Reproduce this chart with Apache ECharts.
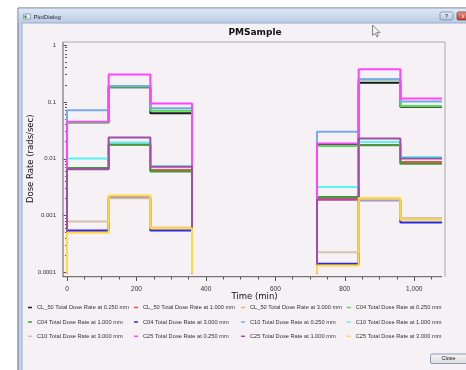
<!DOCTYPE html>
<html><head><meta charset="utf-8">
<script src="https://cdn.jsdelivr.net/npm/echarts@6/dist/echarts.min.js"></script>
<style>html,body{margin:0;padding:0;background:#fff}#c{width:466px;height:370px}</style>
</head><body><div id="c"></div>
<script>
// ---- data ----
const times = [0, 120, 240, 360, 720, 840, 960, 1080];
const seriesNames = [
  'CL_50 Total Dose Rate at 0.250 mm', 'CL_50 Total Dose Rate at 1.000 mm', 'CL_50 Total Dose Rate at 3.000 mm', 'C04 Total Dose Rate at 0.250 mm',
  'C04 Total Dose Rate at 1.000 mm', 'C04 Total Dose Rate at 3.000 mm', 'C10 Total Dose Rate at 0.250 mm', 'C10 Total Dose Rate at 1.000 mm',
  'C10 Total Dose Rate at 3.000 mm', 'C25 Total Dose Rate at 0.250 mm', 'C25 Total Dose Rate at 1.000 mm', 'C25 Total Dose Rate at 3.000 mm'
];
const seriesColors = ['#1a1a1a', '#ff4a4a', '#ffac5c', '#4ee04e', '#3c9c3c', '#2a2ae8',
  '#78a8ee', '#55f5f5', '#d6c2ac', '#ff44ff', '#a04ca8', '#ffda3c'];
// interval values: [0-120, 120-240, 240-360, 720-840, 840-960, 960-1080]
const CL50_025 = [0.044, 0.180, 0.0633, 0.0178, 0.217, 0.0818];
const CL50_100 = [0.0067, 0.0178, 0.00635, 0.0020, 0.0175, 0.0088];
const CL50_300 = [0.00052, 0.0021, 0.00059, 0.000135, 0.0019, 0.00087];
const C04_025 = [0.043, 0.185, 0.0696, 0.0168, 0.248, 0.085];
const C04_100 = [0.0069, 0.0176, 0.00594, 0.00212, 0.0173, 0.0082];
const C04_300 = [0.00055, 0.00207, 0.00055, 0.000142, 0.00186, 0.00076];
const C10_025 = [0.0716, 0.190, 0.077, 0.0297, 0.250, 0.1016];
const C10_100 = [0.0101, 0.0193, 0.0074, 0.00319, 0.0198, 0.01076];
const C10_300 = [0.00079, 0.00203, 0.00062, 0.000228, 0.0019, 0.000906];
const C25_025 = [0.0445, 0.304, 0.094, 0.0185, 0.373, 0.115];
const C25_100 = [0.00653, 0.0236, 0.0072, 0.00191, 0.0227, 0.0101];
const C25_300 = [0.0005, 0.00227, 0.0006, 0.000133, 0.00204, 0.000848];
const seriesValues = [CL50_025, CL50_100, CL50_300, C04_025, C04_100, C04_300,
  C10_025, C10_100, C10_300, C25_025, C25_100, C25_300];
const OFF = 1e-6; // source off (zero dose), below the axis
const xTickValues = [0, 200, 400, 600, 800, 1000];
const xTickLabels = ['0', '200', '400', '600', '800', '1,000'];
const xMinorTicks = [50, 100, 150, 250, 300, 350, 450, 500, 550, 650, 700, 750, 850, 900, 950, 1050];
const yTickValues = [0.0001, 0.001, 0.01, 0.1, 1];
const yTickLabels = ['0.0001', '0.001', '0.01', '0.1', '1'];
const yMinorTicks = [];
[0.0001, 0.001, 0.01, 0.1].forEach(d => { for (let m = 2; m <= 9; m++) yMinorTicks.push(+(d * m).toPrecision(3)); });

function stepPoints(v) {
  return [[times[0], OFF], [times[0], v[0]], [times[1], v[1]], [times[2], v[2]], [times[3], OFF],
    [times[4], v[3]], [times[5], v[4]], [times[6], v[5]], [times[7], v[5]]];
}

// ---- layout ----
const G = { left: 67, right: 24, top: 45, bottom: 97.5 };
const legendCols = [29, 135, 242, 347.7];
const legendRows = [307.5, 322, 336.3];
const TF = 'Liberation Sans, Arial, sans-serif';
const DF = 'DejaVu Sans, Verdana, sans-serif';

const chart = echarts.init(document.getElementById('c'), null, { renderer: 'canvas' });

const series = seriesNames.map((n, i) => ({
  name: n, type: 'line', step: 'end', data: stepPoints(seriesValues[i]),
  showSymbol: false, symbol: 'none', color: seriesColors[i],
  lineStyle: { width: 2, color: seriesColors[i] }, z: 3 + i, silent: true, clip: true
}));

const legends = seriesNames.map((n, i) => ({
  data: [n], left: legendCols[i % 4] - 1, top: legendRows[Math.floor(i / 4)] - 3.5,
  padding: 0, icon: 'rect', itemWidth: 4, itemHeight: 1.5, selectedMode: false,
  textStyle: { fontFamily: TF, fontSize: 5.7, color: '#333', lineHeight: 7 }
}));

const graphic = [
  // window content
  { type: 'rect', shape: { x: 18, y: 8, width: 460, height: 370 }, style: { fill: '#c3d5ec', stroke: '#5f6b7a', lineWidth: 1 }, z: -20, silent: true },
  { type: 'rect', shape: { x: 18.5, y: 8.5, width: 460, height: 14.5 },
    style: { fill: new echarts.graphic.LinearGradient(0, 0, 0, 1, [{ offset: 0, color: '#dde8f5' }, { offset: 1, color: '#b9cde6' }]) }, z: -19, silent: true },
  { type: 'rect', shape: { x: 22, y: 23, width: 450, height: 350 }, style: { fill: '#f5f1f5', stroke: '#9aaec8', lineWidth: 1 }, z: -18, silent: true },
  // title bar icon + text
  { type: 'rect', shape: { x: 23.5, y: 14, width: 7, height: 5 }, style: { fill: '#e8eef4', stroke: '#6a7a8a', lineWidth: 0.6 }, z: -17, silent: true },
  { type: 'rect', shape: { x: 24.5, y: 15.5, width: 2, height: 2.5 }, style: { fill: '#3a8a3a' }, z: -16, silent: true },
  { type: 'text', x: 33.5, y: 17.3, style: { text: 'PlotDialog', fontFamily: TF, fontSize: 6, fill: '#2a2a2a', textVerticalAlign: 'middle' }, z: -16, silent: true },
  // title bar buttons
  { type: 'rect', shape: { x: 440, y: 12, width: 13, height: 8, r: 1.5 },
    style: { fill: new echarts.graphic.LinearGradient(0, 0, 0, 1, [{ offset: 0, color: '#e6edf6' }, { offset: 1, color: '#b3c4da' }]), stroke: '#6e7f97', lineWidth: 0.7 }, z: -16, silent: true },
  { type: 'text', x: 446.5, y: 16.3, style: { text: '?', fontFamily: TF, fontSize: 6, fill: '#333', align: 'center', verticalAlign: 'middle' }, z: -15, silent: true },
  { type: 'rect', shape: { x: 457, y: 12, width: 14, height: 8, r: 1.5 },
    style: { fill: new echarts.graphic.LinearGradient(0, 0, 0, 1, [{ offset: 0, color: '#eb9a86' }, { offset: 1, color: '#c4392b' }]), stroke: '#7a3028', lineWidth: 0.7 }, z: -16, silent: true },
  { type: 'text', x: 463, y: 16.3, style: { text: 'x', fontFamily: TF, fontSize: 6, fill: '#fff', align: 'center', verticalAlign: 'middle' }, z: -15, silent: true },
  // plot frame
  { type: 'polyline', shape: { points: [[63, 42], [445, 42], [445, 276.7]] }, style: { stroke: '#a8a8a8', lineWidth: 1, fill: null }, z: 1, silent: true },
  { type: 'line', shape: { x1: 63, y1: 42, x2: 63, y2: 277.2 }, style: { stroke: '#777', lineWidth: 1.2 }, z: 1, silent: true },
  { type: 'line', shape: { x1: 63, y1: 276.7, x2: 442, y2: 276.7 }, style: { stroke: '#555', lineWidth: 1 }, z: 1, silent: true },
  // close button
  { type: 'rect', shape: { x: 430.5, y: 354, width: 40, height: 9.5, r: 1.5 },
    style: { fill: new echarts.graphic.LinearGradient(0, 0, 0, 1, [{ offset: 0, color: '#f6f6f6' }, { offset: 1, color: '#dcdcdc' }]), stroke: '#6f86a8', lineWidth: 0.8 }, z: -15, silent: true },
  { type: 'text', x: 448.5, y: 358.8, style: { text: 'Close', fontFamily: TF, fontSize: 5.5, fill: '#222', align: 'center', verticalAlign: 'middle' }, z: -14, silent: true },
  // mouse cursor
  { type: 'polygon', x: 372.5, y: 25, shape: { points: [[0, 0], [0, 10.5], [2.6, 8.2], [4.3, 11.8], [5.8, 11.1], [4.2, 7.6], [7.5, 7.6]] },
    style: { fill: '#f4f4f4', stroke: '#555', lineWidth: 0.7 }, z: 20, silent: true }
];

chart.setOption({
  animation: false,
  backgroundColor: '#ffffff',
  title: { text: 'PMSample', left: 228.5, top: 27.5, padding: 0,
    textStyle: { fontFamily: DF, fontSize: 9, fontWeight: 'bold', color: '#111', lineHeight: 11 } },
  grid: G,
  legend: legends,
  graphic: graphic,
  xAxis: [{
    type: 'value', min: 0, max: 1080, offset: 4.5,
    name: 'Time (min)', nameLocation: 'middle', nameGap: 15.5, nameMoveOverlap: false,
    nameTextStyle: { fontFamily: DF, fontSize: 8.5, color: '#111' },
    axisLine: { show: false },
    axisTick: { show: true, length: 4, customValues: xTickValues, lineStyle: { color: '#555', width: 1 } },
    axisLabel: { customValues: xTickValues, formatter: v => xTickLabels[xTickValues.indexOf(v)], margin: 8.5,
      fontFamily: TF, fontSize: 6.5, color: '#333' },
    splitLine: { show: false }
  }, {
    type: 'value', min: 0, max: 1080, offset: 4.5, position: 'bottom', gridIndex: 0,
    axisLine: { show: false },
    axisTick: { show: true, length: 2.5, customValues: xMinorTicks, lineStyle: { color: '#555', width: 1 } },
    axisLabel: { show: false }, splitLine: { show: false }
  }],
  yAxis: [{
    type: 'log', logBase: 10, min: 0.0001, max: 1, offset: 4,
    name: 'Dose Rate (rads/sec)', nameLocation: 'middle', nameGap: 28, nameMoveOverlap: false,
    nameTextStyle: { fontFamily: DF, fontSize: 8.5, color: '#111' },
    axisLine: { show: false },
    axisTick: { show: true, length: 3.5, customValues: yTickValues, lineStyle: { color: '#555', width: 1 } },
    axisLabel: { customValues: yTickValues, formatter: v => { let k = yTickValues.findIndex(t => Math.abs(t - v) / t < 1e-6); return k >= 0 ? yTickLabels[k] : ''; },
      margin: 7, fontFamily: TF, fontSize: 6, color: '#333' },
    splitLine: { show: false }
  }, {
    type: 'log', logBase: 10, min: 0.0001, max: 1, offset: 4, position: 'left', gridIndex: 0,
    axisLine: { show: false },
    axisTick: { show: true, length: 2, customValues: yMinorTicks, lineStyle: { color: '#555', width: 1 } },
    axisLabel: { show: false }, splitLine: { show: false }
  }],
  series: series
});
</script></body></html>
